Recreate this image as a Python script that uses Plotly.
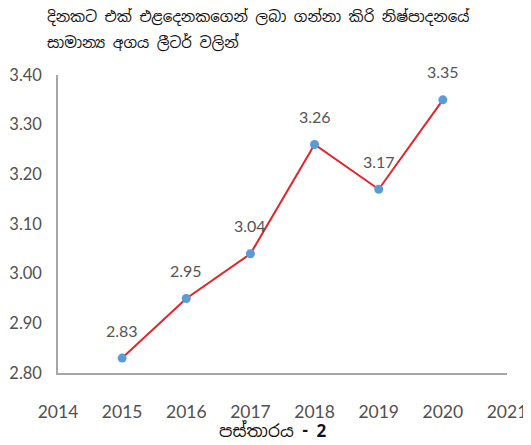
import plotly.graph_objects as go

years = [2015, 2016, 2017, 2018, 2019, 2020]
values = [2.83, 2.95, 3.04, 3.26, 3.17, 3.35]
value_labels = ["2.83", "2.95", "3.04", "3.26", "3.17", "3.35"]
x_ticks = [2014, 2015, 2016, 2017, 2018, 2019, 2020, 2021]
y_ticks = [2.80, 2.90, 3.00, 3.10, 3.20, 3.30, 3.40]
title_lines = ["දිනකට එක් එළදෙනකගෙන් ලබා ගන්නා කිරි නිෂ්පාදනයේ", "සාමාන්‍ය අගය ලීටර් වලින්"]
caption_main = "පස්තාරය"
caption_num = "- 2"

# page body has an 8px default margin, so the figure is drawn 8px in from the corner
OFF = 8
W, H = 531 - OFF, 445 - OFF
L, R, T, B = 58 - OFF, W - (507 - OFF), 75 - OFF, H - (373 - OFF)
PW, PH = W - L - R, H - T - B

FONT = "Lato, Open Sans, sans-serif"

fig = go.Figure()
fig.add_trace(go.Scatter(
    x=years, y=values, mode="lines+markers",
    line=dict(color="#E5232A", width=2),
    marker=dict(color="#5B9BD5", size=9),
    cliponaxis=False,
    hoverinfo="skip",
))

for xv, yv, lab in zip(years, values, value_labels):
    fig.add_annotation(
        x=xv, y=yv, text=lab, showarrow=False, yshift=28,
        xanchor="center", yanchor="middle",
        font=dict(family=FONT, size=16, color="#555555"),
    )

fig.update_layout(
    width=W, height=H,
    margin=dict(l=L, r=R, t=T, b=B, autoexpand=False),
    paper_bgcolor="white", plot_bgcolor="white",
    showlegend=False,
    font=dict(family=FONT, color="#555555"),
)
fig.update_xaxes(
    range=[2014, 2021], tickvals=x_ticks, ticktext=[str(v) for v in x_ticks],
    showgrid=False, zeroline=False, showline=True, linecolor="#A6A6A6", linewidth=1.5,
    ticks="outside", ticklen=22, tickcolor="rgba(0,0,0,0)",
    tickfont=dict(family=FONT, size=17.5, color="#505050"),
    ticklabeloverflow="allow",
)
fig.update_yaxes(
    range=[2.80, 3.40], tickvals=y_ticks, ticktext=[f"{v:.2f}" for v in y_ticks],
    showgrid=False, zeroline=False, showline=True, linecolor="#A6A6A6", linewidth=1.5,
    ticks="outside", ticklen=11, tickcolor="rgba(0,0,0,0)",
    tickfont=dict(family=FONT, size=16.5, color="#505050"),
    ticklabeloverflow="allow",
)

for i, line in enumerate(title_lines):
    fig.add_annotation(
        text=line, xref="paper", yref="paper",
        x=(45 - OFF - L) / PW, y=1 + (T - (17 + 25 * i - OFF)) / PH,
        xanchor="left", yanchor="middle", showarrow=False,
        font=dict(family="Noto Sans Sinhala, Noto Sans, sans-serif", size=15, color="#111111"),
    )
fig.add_annotation(
    text=f"{caption_main} <b>{caption_num}</b>", xref="paper", yref="paper",
    x=(272 - OFF - L) / PW, y=-(431 - OFF - (H - B)) / PH,
    xanchor="center", yanchor="middle", showarrow=False,
    font=dict(family="Noto Sans Sinhala, Liberation Serif, serif", size=17, color="#111111"),
)

fig.write_html("out.html")
